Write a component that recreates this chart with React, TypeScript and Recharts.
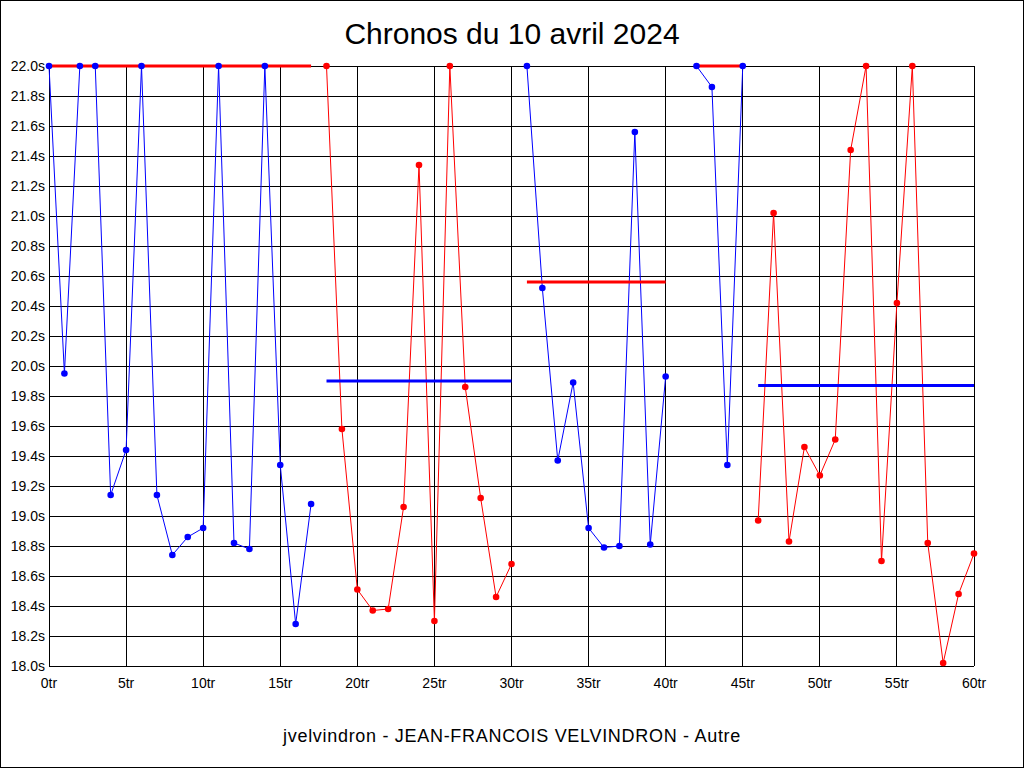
import { ComposedChart, Line, XAxis, YAxis, CartesianGrid, ReferenceLine } from 'recharts';

// laps are grouped in runs; each run starts at its own lap number
const runStarts = [0, 18, 31, 42, 46];
const runColors = ['#0000ff', '#ff0000', '#0000ff', '#0000ff', '#ff0000'];

// lap times (s), capped at 22.0 by the chart
const run1 = [22.0, 19.95, 22.0, 22.0, 19.14, 19.44, 22.0, 19.14, 18.74, 18.86, 18.92, 22.0, 18.82, 18.78, 22.0, 19.34, 18.28, 19.08];
const run2 = [22.0, 19.58, 18.51, 18.37, 18.38, 19.06, 21.34, 18.3, 22.0, 19.86, 19.12, 18.46, 18.68];
const run3 = [22.0, 20.52, 19.37, 19.89, 18.92, 18.79, 18.8, 21.56, 18.81, 19.93];
const run4 = [22.0, 21.86, 19.34, 22.0];
const run5 = [18.97, 21.02, 18.83, 19.46, 19.27, 19.51, 21.44, 22.0, 18.7, 20.42, 22.0, 18.82, 18.02, 18.48, 18.75];
const runs = [run1, run2, run3, run4, run5];

// average of each run
const runAverages = [22.0, 19.9, 20.56, 22.0, 19.87];
const averageColors = ['#ff0000', '#0000ff', '#ff0000', '#ff0000', '#0000ff'];

const lapTicks = [0, 5, 10, 15, 20, 25, 30, 35, 40, 45, 50, 55, 60];
const timeTicks = [18.0, 18.2, 18.4, 18.6, 18.8, 19.0, 19.2, 19.4, 19.6, 19.8, 20.0, 20.2, 20.4, 20.6, 20.8, 21.0, 21.2, 21.4, 21.6, 21.8, 22.0];

const title = 'Chronos du 10 avril 2024';
const footer = 'jvelvindron - JEAN-FRANCOIS VELVINDRON - Autre';

const rows = Array.from({ length: 61 }, (_, lap) => {
  const row: Record<string, number> = { lap };
  runs.forEach((times, i) => {
    const idx = lap - runStarts[i];
    if (idx >= 0 && idx < times.length) row[`r${i}`] = times[idx];
  });
  return row;
});

const font = '"Liberation Sans", Arial, sans-serif';
const tickStyle = { fill: '#000', fontSize: 14, fontFamily: font };
const fmtTime = (v: number) => `${Number(v).toFixed(1)}s`;

export default function App() {
  return (
    <div style={{ position: 'absolute', left: 0, top: 0, width: 1024, height: 768, background: '#fff', fontFamily: font }}>
      <ComposedChart width={1024} height={768} data={rows} margin={{ top: 66, right: 0, left: 0, bottom: 72 }}>
        <CartesianGrid stroke="#000" strokeWidth={1} shapeRendering="crispEdges" />
        <XAxis
          type="number"
          dataKey="lap"
          domain={[0, 60]}
          ticks={lapTicks}
          interval={0}
          axisLine={false}
          tickLine={false}
          tickSize={0}
          tickMargin={12}
          height={30}
          tick={tickStyle}
          tickFormatter={(v) => `${v}tr`}
        />
        <YAxis
          domain={[18, 22]}
          ticks={timeTicks}
          interval={0}
          width={49}
          axisLine={false}
          tickLine={false}
          tickSize={0}
          tickMargin={4}
          tick={tickStyle}
          tickFormatter={fmtTime}
        />
        <YAxis
          yAxisId="r"
          orientation="right"
          domain={[18, 22]}
          ticks={timeTicks}
          interval={0}
          width={50}
          axisLine={false}
          tickLine={false}
          tickSize={0}
          tickMargin={5}
          tick={tickStyle}
          tickFormatter={fmtTime}
        />
        {runs.map((_, i) => (
          <Line
            key={i}
            dataKey={`r${i}`}
            stroke={runColors[i]}
            strokeWidth={1}
            dot={{ r: 3.3, fill: runColors[i], stroke: 'none' }}
            activeDot={false}
            isAnimationActive={false}
          />
        ))}
        {runs.map((times, i) => (
          <ReferenceLine
            key={`avg${i}`}
            segment={[
              { x: runStarts[i], y: runAverages[i] },
              { x: runStarts[i] + times.length - 1, y: runAverages[i] },
            ]}
            stroke={averageColors[i]}
            strokeWidth={3}
          />
        ))}
      </ComposedChart>
      <div style={{ position: 'absolute', left: 0, top: 19, width: 1024, textAlign: 'center', fontSize: 30, lineHeight: '30px', color: '#000' }}>
        {title}
      </div>
      <div style={{ position: 'absolute', left: 0, top: 727, width: 1024, textAlign: 'center', fontSize: 18, lineHeight: '18px', letterSpacing: 0.7, color: '#000' }}>
        {footer}
      </div>
      <div style={{ position: 'absolute', left: 0, top: 0, width: 1024, height: 768, boxSizing: 'border-box', border: '1px solid #000', pointerEvents: 'none' }} />
    </div>
  );
}
